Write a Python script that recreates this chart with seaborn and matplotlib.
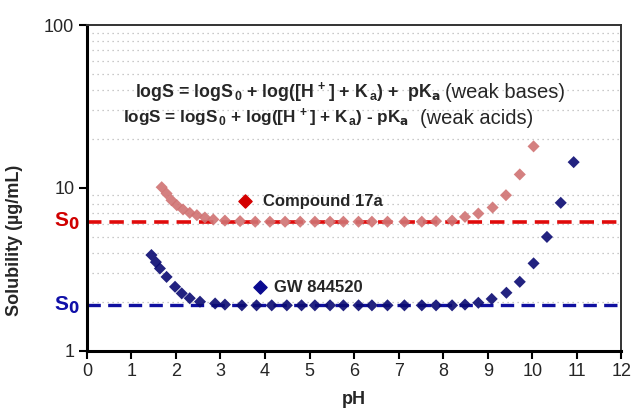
import matplotlib
matplotlib.use("Agg")
import matplotlib.pyplot as plt
import seaborn as sns
import pandas as pd
import numpy as np

# ---- data ----
ph_red = [1.68, 1.79, 1.90, 2.02, 2.16, 2.31, 2.47, 2.65, 2.84, 3.10, 3.44, 3.78,
          4.11, 4.45, 4.79, 5.12, 5.46, 5.76, 6.10, 6.40, 6.75, 7.13, 7.52, 7.84,
          8.20, 8.49, 8.79, 9.11, 9.41, 9.72, 10.03]
sol_red = [10.1, 9.24, 8.4, 7.83, 7.37, 7.03, 6.8, 6.58, 6.4, 6.3, 6.25, 6.2,
           6.2, 6.2, 6.2, 6.2, 6.2, 6.2, 6.2, 6.2, 6.2, 6.2, 6.2, 6.25,
           6.3, 6.64, 6.96, 7.58, 9.02, 12.1, 18.0]

ph_blue = [1.45, 1.55, 1.64, 1.79, 1.98, 2.13, 2.31, 2.54, 2.88, 3.10, 3.48, 3.81,
           4.15, 4.49, 4.82, 5.12, 5.46, 5.76, 6.10, 6.40, 6.75, 7.13, 7.52, 7.84,
           8.20, 8.49, 8.79, 9.09, 9.42, 9.72, 10.03, 10.33, 10.64, 10.93]
sol_blue = [3.87, 3.5, 3.2, 2.84, 2.47, 2.25, 2.1, 2.0, 1.95, 1.92, 1.9, 1.9,
            1.9, 1.9, 1.9, 1.9, 1.9, 1.9, 1.9, 1.9, 1.9, 1.9, 1.9, 1.9,
            1.9, 1.92, 1.97, 2.08, 2.27, 2.65, 3.44, 5.0, 8.1, 14.4]

s0_red = 6.2
s0_blue = 1.91
compounds = ["Compound 17a", "GW 844520"]
x_ticks = list(range(0, 13))
y_ticks = [1, 10, 100]

RED_PTS = "#d07272"
BLUE_PTS = "#0b0b72"
RED_LINE = "#e00b0b"
BLUE_LINE = "#1010a0"

sns.set_style("white")
plt.rcParams['font.family'] = ['Liberation Sans', 'DejaVu Sans']
plt.rcParams['mathtext.default'] = 'regular'

fig = plt.figure(figsize=(6.34, 4.19), dpi=100)
ax = fig.add_axes([0.137, 0.163, 0.843, 0.777])

df = pd.concat([
    pd.DataFrame({"pH": ph_red, "S": sol_red, "cmp": compounds[0]}),
    pd.DataFrame({"pH": ph_blue, "S": sol_blue, "cmp": compounds[1]}),
])

ax.set_yscale("log")
ax.set_xlim(0, 12)
ax.set_ylim(1, 100)

# minor dotted grid
ax.yaxis.set_minor_locator(matplotlib.ticker.LogLocator(base=10, subs=np.arange(2, 10)))
ax.grid(True, which="minor", axis="y", color="#b8b8b8", linestyle=(0, (1, 3)), linewidth=0.9)
ax.grid(False, which="major")

ax.axhline(s0_red, color=RED_LINE, linestyle=(0, (4, 2.2)), linewidth=2.6, zorder=2)
ax.axhline(s0_blue, color=BLUE_LINE, linestyle=(0, (4, 2.2)), linewidth=2.4, zorder=2)

sns.scatterplot(data=df, x="pH", y="S", hue="cmp", palette=[RED_PTS, BLUE_PTS],
                marker="D", s=38, edgecolor="none", alpha=0.9, legend=False,
                ax=ax, zorder=3)

# legend-like labels
ax.scatter([3.55], [8.3], marker="D", s=45, color="#d40000", zorder=4)
ax.text(3.95, 8.3, compounds[0], fontsize=12, fontweight="bold", va="center")
ax.scatter([3.88], [2.45], marker="D", s=45, color="#0a0a90", zorder=4)
ax.text(4.2, 2.45, compounds[1], fontsize=12, fontweight="bold", va="center")

# formula text
ax.text(1.08, 38.6,
        r"logS = logS$_{\,0}$ + log([H$^{\,+}$] + K$_{\,a}$) +  pK$_{\mathbf{a}}$",
        fontsize=12.8, fontweight="bold", va="center")
ax.text(8.04, 38.6, "(weak bases)", fontsize=14.5, va="center")
ax.text(0.81, 26.8,
        r"logS = logS$_{\,0}$ + log([H$^{\,+}$] + K$_{\,a}$) - pK$_{\mathbf{a}}$",
        fontsize=12.3, fontweight="bold", va="center")
ax.text(7.48, 26.8, "(weak acids)", fontsize=14.5, va="center")

# S0 labels left of axis
ax.text(-0.16, s0_red, r"S$_\mathbf{0}$", color="#d00000", fontsize=15, fontweight="bold",
        ha="right", va="center")
ax.text(-0.16, s0_blue, r"S$_\mathbf{0}$", color="#1010a8", fontsize=15, fontweight="bold",
        ha="right", va="center")

ax.set_xticks(x_ticks)
ax.set_xticklabels([str(t) for t in x_ticks], fontsize=13)
ax.set_yticks(y_ticks)
ax.set_yticklabels([str(t) for t in y_ticks], fontsize=13)
ax.tick_params(axis="both", which="major", direction="out", length=6, width=1.5, color="black",
               bottom=True, left=True, pad=3)
ax.tick_params(axis="y", which="minor", length=0)
ax.set_xlabel("pH", fontsize=13, fontweight="bold", labelpad=8)
ax.set_ylabel("Solubility (µg/mL)", fontsize=13, fontweight="bold")
ax.yaxis.set_label_coords(-0.12, 0.34)

for side in ["left", "bottom"]:
    ax.spines[side].set_linewidth(2.2)
    ax.spines[side].set_color("black")
for side in ["top", "right"]:
    ax.spines[side].set_linewidth(1.4)
    ax.spines[side].set_color("#333333")

fig.savefig("out.png", dpi=100)
